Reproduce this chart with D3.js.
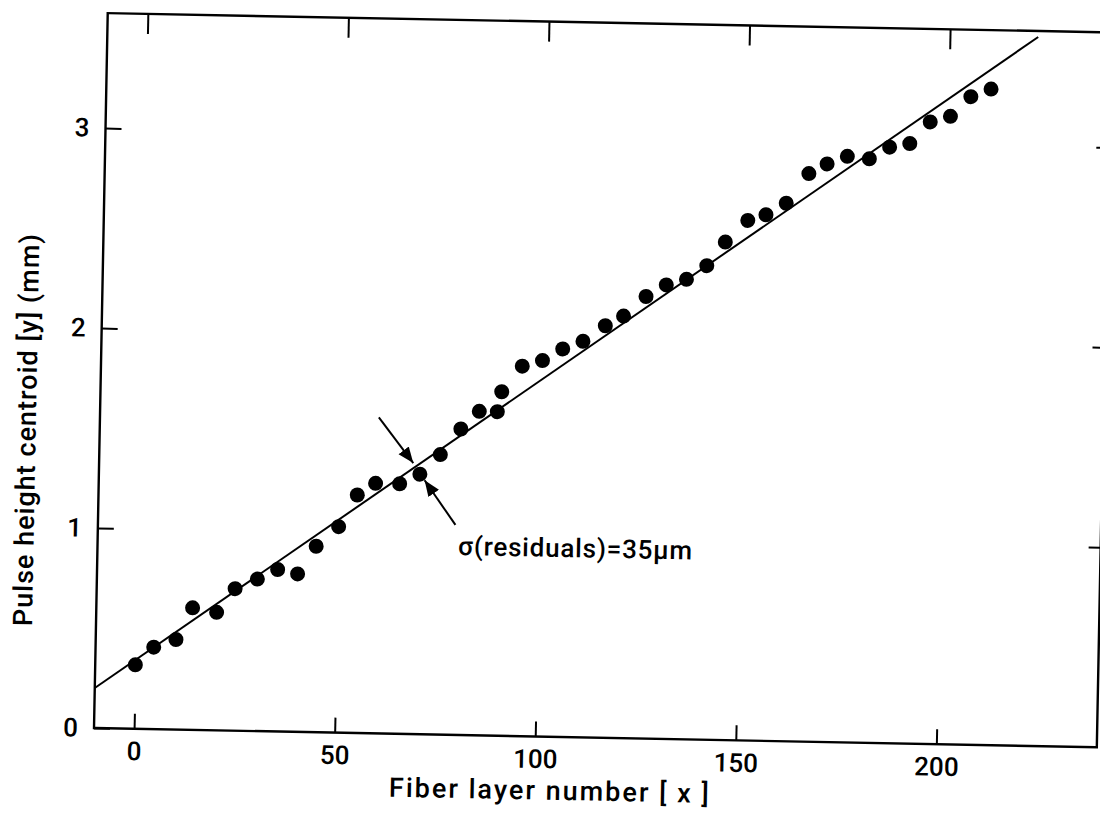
<!DOCTYPE html>
<html>
<head>
<meta charset="utf-8">
<script src="https://cdn.jsdelivr.net/npm/d3@7"></script>
<style>
  body { margin: 0; background: #fff; }
  text { font-family: Roboto, 'Liberation Sans Narrow', sans-serif; font-weight: 500; fill: #000; }
</style>
</head>
<body>
<div id="chart"></div>
<script>
// measured points: fiber layer (x) and pulse height centroid (y, mm)
var layerX = [0, 4.5, 10, 14, 20, 24.5, 30, 35, 40, 44.5, 50, 54.5, 59, 65, 70, 75, 80, 84.5, 89, 90,
  95, 100, 105, 110, 115.5, 120, 125.5, 130.5, 135.5, 140.5, 145, 150.5, 155, 160, 165.5, 170, 175,
  180.5, 185.5, 190.5, 195.5, 200.5, 205.5, 210.5];
var centroidY = [0.32, 0.41, 0.45, 0.61, 0.59, 0.71, 0.76, 0.81, 0.79, 0.93, 1.03, 1.19, 1.25, 1.25,
  1.30, 1.40, 1.53, 1.62, 1.62, 1.72, 1.85, 1.88, 1.94, 1.98, 2.06, 2.11, 2.21, 2.27, 2.30, 2.37, 2.49,
  2.60, 2.63, 2.69, 2.84, 2.89, 2.93, 2.92, 2.98, 3.00, 3.11, 3.14, 3.24, 3.28];

// straight line fit, end points
var fitX = [-10, 222];
var fitY = [0.2, 3.545];

var xTicks = [0, 50, 100, 150, 200];
var yTicks = [0, 1, 2, 3];
var rightTicks = [1, 2, 3];

// annotation arrows [x1, y1, x2, y2] in data units, and label
var arrows = [[59.5, 1.58, 68.3, 1.355], [79.1, 1.05, 71.2, 1.27]];
var noteText = "σ(residuals)=35µm";
var notePos = [79.9, 0.9];

// the scanned figure sits a bit tilted on the page
var tilt = 1.1;
var margin = {top: 13, left: 94},
  width = 1003,
  height = 715;

var svg = d3.select("#chart")
  .append("svg")
    .attr("width", 1100)
    .attr("height", 818);

svg.append("defs").append("marker")
    .attr("id", "head")
    .attr("viewBox", "0 0 10 10")
    .attr("refX", 10).attr("refY", 5)
    .attr("markerWidth", 16).attr("markerHeight", 16)
    .attr("markerUnits", "userSpaceOnUse")
    .attr("orient", "auto")
  .append("path")
    .attr("d", "M0,1 L10,5 L0,9 Z")
    .attr("fill", "#000");

var g = svg.append("g")
    .attr("transform", "rotate(" + tilt + "," + margin.left + "," + (margin.top + height) + ") translate(" + margin.left + "," + margin.top + ")");

var x = d3.scaleLinear().domain([-10, 240]).range([0, width]);
var y = d3.scaleLinear().domain([0, 3.575]).range([height, 0]);

// bottom axis with labels, ticks pointing in
var xAxis = g.append("g")
    .attr("transform", "translate(0," + height + ")")
    .call(d3.axisBottom(x).tickValues(xTicks).tickSize(-15).tickPadding(13));

var yAxis = g.append("g")
    .call(d3.axisLeft(y).tickValues(yTicks).tickSize(-16).tickPadding(16).tickFormat(d3.format("d")));

// top and right: ticks only
var topAxis = g.append("g")
    .call(d3.axisTop(x).tickValues(xTicks).tickSize(-20).tickFormat(""));
var rightAxis = g.append("g")
    .attr("transform", "translate(" + width + ",0)")
    .call(d3.axisRight(y).tickValues(rightTicks).tickSize(-12).tickFormat(""));

[xAxis, yAxis, topAxis, rightAxis].forEach(function(a) {
  a.attr("font-family", null);
  a.select(".domain").remove();
  a.selectAll(".tick line").attr("stroke", "#000").attr("stroke-width", 2);
  a.selectAll("text").style("font-size", "26px");
});

// frame
g.append("rect")
    .attr("x", 0).attr("y", 0)
    .attr("width", width).attr("height", height)
    .attr("fill", "none")
    .attr("stroke", "#000")
    .attr("stroke-width", 2.4);

// fitted line
var fit = fitX.map(function(d, i) { return [d, fitY[i]]; });
g.append("path")
    .datum(fit)
    .attr("fill", "none")
    .attr("stroke", "#000")
    .attr("stroke-width", 2)
    .attr("d", d3.line().x(function(d) { return x(d[0]); }).y(function(d) { return y(d[1]); }));

// points
g.selectAll("circle.pt")
    .data(layerX)
  .enter()
  .append("circle")
    .attr("class", "pt")
    .attr("cx", function(d) { return x(d); })
    .attr("cy", function(d, i) { return y(centroidY[i]); })
    .attr("r", 7.5)
    .attr("fill", "#000");

// arrows + note
g.selectAll("line.arrow")
    .data(arrows)
  .enter()
  .append("line")
    .attr("class", "arrow")
    .attr("x1", function(d) { return x(d[0]); })
    .attr("y1", function(d) { return y(d[1]); })
    .attr("x2", function(d) { return x(d[2]); })
    .attr("y2", function(d) { return y(d[3]); })
    .attr("stroke", "#000")
    .attr("stroke-width", 2)
    .attr("marker-end", "url(#head)");

g.append("text")
    .attr("x", x(notePos[0]))
    .attr("y", y(notePos[1]))
    .style("font-size", "26px")
    .style("letter-spacing", "0.8px")
    .text(noteText);

// axis titles
g.append("text")
    .attr("x", 457)
    .attr("y", height + 63)
    .attr("text-anchor", "middle")
    .style("font-size", "27px")
    .style("letter-spacing", "2px")
    .text("Fiber layer number [ x ]");

g.append("text")
    .attr("transform", "translate(-64," + (height - 297) + ") rotate(-90)")
    .attr("text-anchor", "middle")
    .style("font-size", "27px")
    .style("letter-spacing", "1px")
    .text("Pulse height centroid [y] (mm)");
</script>
</body>
</html>
